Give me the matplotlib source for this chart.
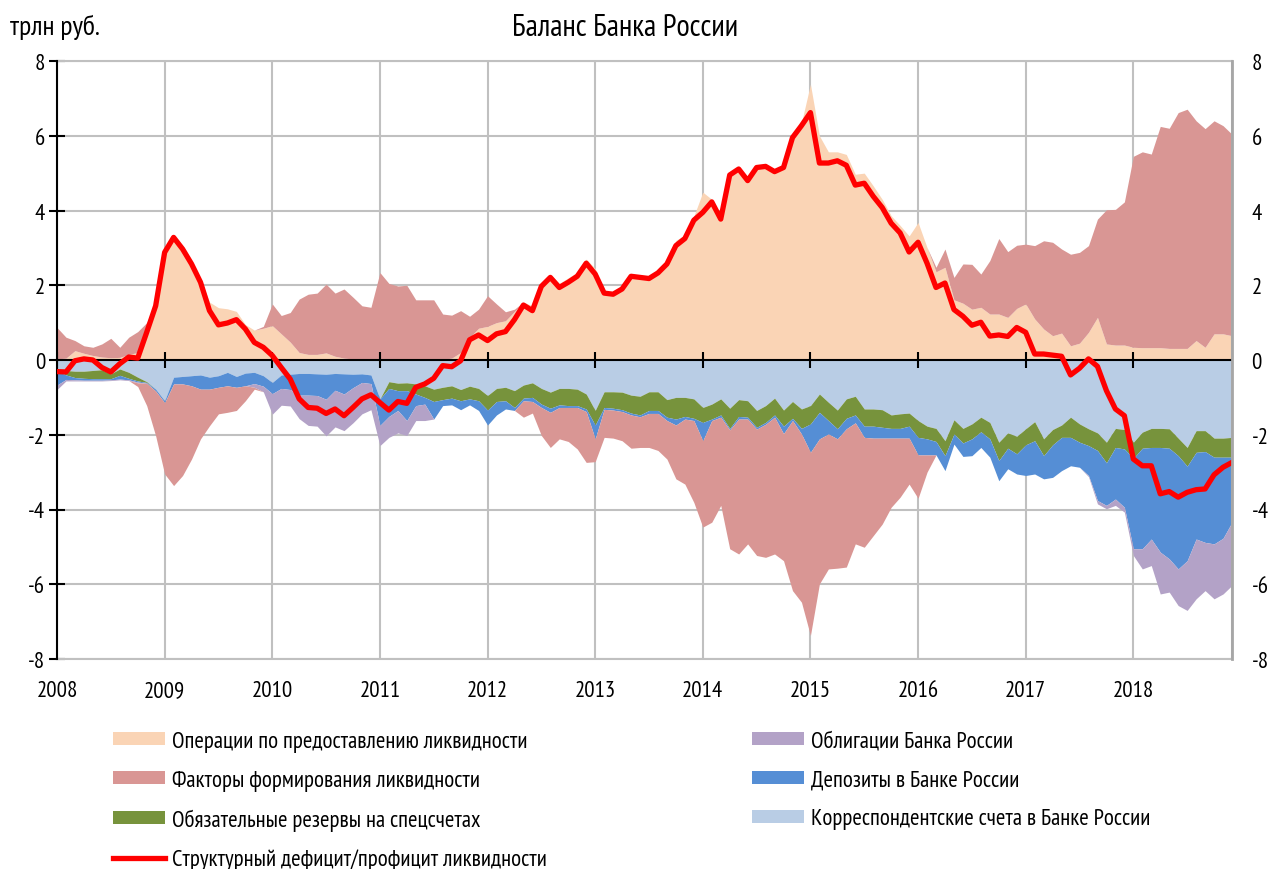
import numpy as np
import matplotlib.pyplot as plt

plt.rcParams['font.family'] = ['PT Sans Narrow', 'Roboto Condensed', 'DejaVu Sans']

years = list(range(2008, 2019))

# monthly data, трлн руб., Jan 2008 .. Dec 2018 (12 values per row)
operations = [
    0.03, 0.05, 0.25, 0.18, 0.12, 0.08, 0.06, 0.07, 0.15, 0.20, 0.80, 1.50,
    2.90, 3.28, 3.00, 2.62, 2.15, 1.55, 1.40, 1.37, 1.30, 0.95, 0.80, 0.85,
    0.92, 0.70, 0.48, 0.20, 0.15, 0.15, 0.19, 0.10, 0.05, 0.03, 0.02, 0.02,
    0.02, 0.02, 0.02, 0.02, 0.02, 0.02, 0.02, 0.02, 0.05, 0.20, 0.60, 0.85,
    0.90, 1.00, 1.05, 1.30, 1.55, 1.45, 2.05, 2.30, 2.05, 2.20, 2.35, 2.70,
    2.45, 1.85, 1.80, 1.95, 2.30, 2.25, 2.25, 2.40, 2.65, 3.20, 3.35, 3.85,
    4.49, 4.30, 3.85, 5.00, 5.15, 4.85, 5.20, 5.22, 5.10, 5.20, 6.00, 6.35,
    7.38, 6.00, 5.57, 5.57, 5.50, 4.97, 5.00, 4.66, 4.30, 3.86, 3.60, 3.32,
    3.68, 3.01, 2.36, 2.48, 1.61, 1.52, 1.36, 1.41, 1.23, 1.23, 1.14, 1.38,
    1.50, 1.10, 0.83, 0.65, 0.72, 0.38, 0.45, 0.74, 1.14, 0.43, 0.40, 0.40,
    0.34, 0.33, 0.33, 0.33, 0.31, 0.31, 0.31, 0.52, 0.34, 0.70, 0.70, 0.65,
]
factors_assets = [
    0.84, 0.56, 0.27, 0.20, 0.22, 0.35, 0.52, 0.27, 0.46, 0.56, 0.20, 0.00,
    0.00, 0.00, 0.00, 0.00, 0.00, 0.00, 0.00, 0.00, 0.00, 0.00, 0.00, 0.05,
    0.58, 0.49, 0.79, 1.43, 1.61, 1.64, 1.84, 1.69, 1.85, 1.65, 1.43, 1.39,
    2.32, 2.03, 1.96, 1.98, 1.59, 1.59, 1.59, 1.21, 1.15, 1.12, 0.57, 0.51,
    0.82, 0.50, 0.24, 0.06, 0.00, 0.00, 0.00, 0.00, 0.00, 0.00, 0.00, 0.00,
    0.00, 0.00, 0.00, 0.00, 0.00, 0.00, 0.00, 0.00, 0.00, 0.00, 0.00, 0.00,
    0.00, 0.00, 0.00, 0.00, 0.00, 0.00, 0.00, 0.00, 0.00, 0.00, 0.00, 0.00,
    0.00, 0.00, 0.00, 0.00, 0.00, 0.00, 0.00, 0.00, 0.00, 0.00, 0.00, 0.00,
    0.00, 0.00, 0.12, 0.49, 0.60, 1.05, 1.20, 0.89, 1.43, 2.02, 1.76, 1.69,
    1.60, 1.96, 2.36, 2.50, 2.25, 2.45, 2.43, 2.32, 2.63, 3.59, 3.63, 3.83,
    5.11, 5.24, 5.18, 5.92, 5.89, 6.31, 6.40, 5.88, 5.85, 5.70, 5.57, 5.39,
]
corr_accounts = [
    0.26, 0.28, 0.30, 0.30, 0.28, 0.26, 0.37, 0.24, 0.33, 0.46, 0.58, 0.78,
    1.09, 0.46, 0.44, 0.42, 0.40, 0.46, 0.42, 0.33, 0.44, 0.35, 0.33, 0.42,
    0.60, 0.40, 0.38, 0.36, 0.36, 0.37, 0.38, 0.36, 0.37, 0.38, 0.37, 0.40,
    1.04, 0.58, 0.62, 0.61, 0.64, 0.69, 0.78, 0.73, 0.69, 0.79, 0.70, 0.76,
    0.95, 0.76, 0.73, 0.82, 0.67, 0.61, 0.76, 0.86, 0.76, 0.76, 0.78, 0.91,
    1.35, 0.85, 0.85, 0.86, 0.94, 0.97, 0.85, 0.85, 1.06, 1.00, 1.00, 1.04,
    1.27, 1.18, 1.04, 1.29, 1.06, 1.09, 1.35, 1.22, 1.02, 1.34, 1.11, 1.31,
    1.22, 0.91, 1.13, 1.34, 1.04, 0.97, 1.31, 1.31, 1.33, 1.47, 1.44, 1.42,
    1.62, 1.77, 1.83, 2.16, 1.60, 1.83, 1.71, 1.53, 1.67, 2.20, 1.95, 2.04,
    1.84, 1.65, 2.11, 1.86, 1.74, 1.53, 1.71, 1.84, 1.95, 2.20, 1.83, 1.86,
    2.20, 1.93, 1.83, 1.83, 1.84, 2.09, 2.34, 1.89, 1.89, 2.09, 2.09, 2.07,
]
reserves = [
    0.03, 0.12, 0.17, 0.19, 0.22, 0.24, 0.13, 0.17, 0.16, 0.10, 0.02, 0.00,
    0.00, 0.00, 0.00, 0.00, 0.00, 0.00, 0.00, 0.00, 0.00, 0.00, 0.00, 0.00,
    0.00, 0.00, 0.00, 0.00, 0.00, 0.00, 0.00, 0.00, 0.00, 0.00, 0.00, 0.00,
    0.00, 0.18, 0.20, 0.21, 0.27, 0.31, 0.33, 0.33, 0.33, 0.30, 0.34, 0.33,
    0.39, 0.35, 0.36, 0.45, 0.35, 0.39, 0.42, 0.43, 0.44, 0.46, 0.44, 0.40,
    0.39, 0.42, 0.44, 0.47, 0.48, 0.50, 0.50, 0.50, 0.47, 0.58, 0.51, 0.52,
    0.40, 0.40, 0.43, 0.54, 0.45, 0.44, 0.45, 0.45, 0.45, 0.43, 0.45, 0.52,
    0.49, 0.49, 0.49, 0.50, 0.52, 0.50, 0.46, 0.46, 0.47, 0.36, 0.39, 0.35,
    0.45, 0.34, 0.35, 0.40, 0.38, 0.39, 0.40, 0.39, 0.44, 0.49, 0.41, 0.47,
    0.43, 0.51, 0.45, 0.41, 0.33, 0.54, 0.49, 0.45, 0.47, 0.55, 0.51, 0.52,
    0.43, 0.43, 0.51, 0.51, 0.52, 0.47, 0.50, 0.58, 0.56, 0.51, 0.51, 0.53,
]
deposits = [
    0.38, 0.12, 0.06, 0.05, 0.04, 0.04, 0.03, 0.10, 0.04, 0.03, 0.02, 0.05,
    0.05, 0.18, 0.20, 0.27, 0.38, 0.32, 0.31, 0.36, 0.29, 0.34, 0.30, 0.28,
    0.30, 0.36, 0.41, 0.58, 0.58, 0.58, 0.67, 0.45, 0.54, 0.36, 0.23, 0.23,
    0.71, 0.75, 0.53, 0.80, 0.31, 0.18, 0.47, 0.16, 0.18, 0.24, 0.16, 0.26,
    0.40, 0.36, 0.22, 0.08, 0.07, 0.11, 0.09, 0.11, 0.07, 0.05, 0.05, 0.07,
    0.37, 0.05, 0.05, 0.05, 0.05, 0.05, 0.08, 0.08, 0.09, 0.16, 0.07, 0.06,
    0.49, 0.04, 0.06, 0.04, 0.07, 0.05, 0.05, 0.05, 0.06, 0.20, 0.06, 0.15,
    0.76, 0.71, 0.36, 0.27, 0.28, 0.21, 0.30, 0.32, 0.29, 0.26, 0.26, 0.32,
    0.47, 0.43, 0.36, 0.40, 0.27, 0.36, 0.45, 0.42, 0.49, 0.54, 0.55, 0.54,
    0.82, 0.89, 0.62, 0.87, 0.89, 0.76, 0.67, 0.80, 1.34, 1.14, 1.38, 1.56,
    2.42, 2.69, 2.45, 2.80, 2.96, 3.03, 2.53, 2.32, 2.43, 2.32, 2.17, 1.74,
]
bonds = [
    0.12, 0.04, 0.03, 0.02, 0.02, 0.02, 0.02, 0.02, 0.02, 0.02, 0.00, 0.00,
    0.00, 0.00, 0.00, 0.00, 0.00, 0.00, 0.00, 0.00, 0.00, 0.00, 0.10, 0.15,
    0.55, 0.45, 0.44, 0.63, 0.81, 0.82, 0.98, 0.98, 0.98, 0.94, 0.84, 0.70,
    0.54, 0.56, 0.60, 0.40, 0.40, 0.44, 0.00, 0.00, 0.00, 0.00, 0.00, 0.00,
    0.00, 0.00, 0.00, 0.00, 0.00, 0.00, 0.00, 0.00, 0.00, 0.00, 0.00, 0.00,
    0.00, 0.00, 0.00, 0.00, 0.00, 0.00, 0.00, 0.00, 0.00, 0.00, 0.00, 0.00,
    0.00, 0.00, 0.00, 0.00, 0.00, 0.00, 0.00, 0.00, 0.00, 0.00, 0.00, 0.00,
    0.00, 0.00, 0.00, 0.00, 0.00, 0.00, 0.00, 0.00, 0.00, 0.00, 0.00, 0.00,
    0.00, 0.00, 0.00, 0.00, 0.00, 0.00, 0.00, 0.00, 0.00, 0.00, 0.00, 0.00,
    0.00, 0.00, 0.00, 0.00, 0.00, 0.00, 0.00, 0.03, 0.09, 0.09, 0.17, 0.13,
    0.18, 0.54, 0.71, 1.12, 0.89, 0.98, 1.33, 1.60, 1.29, 1.47, 1.49, 1.69,
]
factors_liab = [
    0.00, 0.00, 0.00, 0.00, 0.00, 0.00, 0.00, 0.00, 0.00, 0.10, 0.60, 1.20,
    1.91, 2.72, 2.45, 1.96, 1.33, 0.98, 0.71, 0.71, 0.62, 0.40, 0.05, 0.00,
    0.00, 0.00, 0.00, 0.00, 0.00, 0.00, 0.00, 0.00, 0.00, 0.00, 0.00, 0.00,
    0.00, 0.00, 0.00, 0.00, 0.00, 0.00, 0.00, 0.00, 0.00, 0.00, 0.00, 0.00,
    0.00, 0.00, 0.00, 0.00, 0.44, 0.31, 0.75, 0.94, 0.84, 0.91, 1.11, 1.36,
    0.61, 0.75, 0.75, 0.78, 0.89, 0.82, 0.91, 0.99, 1.03, 1.44, 1.74, 2.19,
    2.31, 2.72, 2.36, 3.18, 3.61, 3.34, 3.38, 3.56, 3.66, 3.40, 4.55, 4.50,
    4.90, 3.88, 3.61, 3.46, 3.70, 3.24, 2.94, 2.61, 2.30, 1.85, 1.58, 1.23,
    1.16, 0.46, 0.00, 0.00, 0.00, 0.00, 0.00, 0.00, 0.00, 0.00, 0.00, 0.00,
    0.00, 0.00, 0.00, 0.00, 0.00, 0.00, 0.00, 0.00, 0.00, 0.00, 0.00, 0.00,
    0.00, 0.00, 0.00, 0.00, 0.00, 0.00, 0.00, 0.00, 0.00, 0.00, 0.00, 0.00,
]
structural = [
    -0.31, -0.32, -0.02, 0.03, 0.00, -0.20, -0.32, -0.10, 0.08, 0.05, 0.74, 1.45,
    2.88, 3.28, 2.97, 2.57, 2.08, 1.32, 0.94, 0.99, 1.08, 0.83, 0.47, 0.34,
    0.12, -0.20, -0.51, -1.04, -1.27, -1.29, -1.43, -1.31, -1.49, -1.27, -1.04, -0.93,
    -1.14, -1.34, -1.11, -1.16, -0.73, -0.64, -0.49, -0.15, -0.18, -0.02, 0.54, 0.67,
    0.52, 0.70, 0.76, 1.08, 1.47, 1.32, 1.97, 2.21, 1.94, 2.08, 2.24, 2.59,
    2.30, 1.79, 1.76, 1.90, 2.24, 2.21, 2.18, 2.33, 2.57, 3.06, 3.25, 3.74,
    3.95, 4.23, 3.77, 4.95, 5.11, 4.80, 5.15, 5.18, 5.04, 5.15, 5.95, 6.27,
    6.62, 5.27, 5.27, 5.33, 5.21, 4.68, 4.73, 4.38, 4.08, 3.66, 3.40, 2.89,
    3.15, 2.59, 1.94, 2.06, 1.35, 1.17, 0.93, 1.01, 0.64, 0.67, 0.63, 0.87,
    0.74, 0.16, 0.16, 0.13, 0.10, -0.40, -0.22, 0.03, -0.17, -0.82, -1.31, -1.49,
    -2.65, -2.83, -2.83, -3.58, -3.52, -3.67, -3.54, -3.47, -3.45, -3.07, -2.87, -2.74,
]

labels = [
    'Операции по предоставлению ликвидности',
    'Факторы формирования ликвидности',
    'Обязательные резервы на спецсчетах',
    'Облигации Банка России',
    'Депозиты в Банке России',
    'Корреспондентские счета в Банке России',
    'Структурный дефицит/профицит ликвидности',
]
c_ops = '#FAD4B5'
c_fac = '#D99694'
c_res = '#77933C'
c_bond = '#B3A2C7'
c_dep = '#558ED5'
c_corr = '#B9CDE5'
c_line = '#FF0000'
grid_c = '#C0C0C0'

t = years[0] + np.arange(len(operations)) / 12

ops = np.array(operations)
top = ops + np.array(factors_assets)
n1 = -np.array(corr_accounts)
n2 = n1 - np.array(reserves)
n3 = n2 - np.array(deposits)
n4 = n3 - np.array(bonds)
n5 = n4 - np.array(factors_liab)

fig = plt.figure(figsize=(12.7, 8.7), dpi=100)
ax = fig.add_axes([57 / 1270, 1 - 660 / 870, (1232 - 57) / 1270, 598 / 870])

h_ops = ax.fill_between(t, 0, ops, color=c_ops, lw=0, zorder=2)
h_fac = ax.fill_between(t, ops, top, color=c_fac, lw=0, zorder=2)
h_corr = ax.fill_between(t, 0, n1, color=c_corr, lw=0, zorder=2)
h_res = ax.fill_between(t, n1, n2, color=c_res, lw=0, zorder=2)
h_dep = ax.fill_between(t, n2, n3, color=c_dep, lw=0, zorder=2)
h_bond = ax.fill_between(t, n3, n4, color=c_bond, lw=0, zorder=2)
ax.fill_between(t, n4, n5, color=c_fac, lw=0, zorder=2)
h_line, = ax.plot(t, structural, color=c_line, lw=3.8, zorder=5)

# zero axis with year ticks
ax.axhline(0, color='black', lw=1.5, zorder=3)
ax.plot(years, np.zeros(len(years)), ls='none', marker='|', ms=11, mew=1.5,
        color='black', zorder=3)

ax.set_xlim(t[0], t[-1])
ax.set_ylim(-8, 8)
ax.set_xticks(years)
ax.set_xticklabels([str(y) for y in years], fontsize=16.5)
ax.set_yticks(range(-8, 9, 2))
ax.set_yticklabels([str(v) for v in range(-8, 9, 2)], fontsize=16.5)
ax.tick_params(axis='x', length=0, pad=15)
ax.tick_params(axis='y', direction='inout', length=11, width=1.5, pad=3)
ax.grid(True, color=grid_c, lw=1.5, zorder=0)
ax.set_axisbelow(True)
for side in ['top', 'bottom', 'right']:
    ax.spines[side].set_color(grid_c)
    ax.spines[side].set_linewidth(1.5)
ax.spines['left'].set_linewidth(1.5)
ax.spines['left'].set_zorder(4)

ax2 = ax.twinx()
ax2.set_ylim(-8, 8)
ax2.set_yticks(range(-8, 9, 2))
ax2.set_yticklabels([str(v) for v in range(-8, 9, 2)], fontsize=16.5)
ax2.tick_params(axis='y', length=0, pad=14)
for side in ['top', 'bottom', 'left']:
    ax2.spines[side].set_visible(False)
ax2.spines['right'].set_color('#A6A6A6')
ax2.spines['right'].set_linewidth(2)

fig.text(10 / 1270, 1 - 27 / 870, 'трлн руб.', fontsize=20, va='center', ha='left')
fig.text(625 / 1270, 1 - 28 / 870, 'Баланс Банка России', fontsize=22, va='center', ha='center')

leg_kw = dict(frameon=False, fontsize=16.5, handlelength=2.27, handleheight=0.5,
              handletextpad=0.3, labelspacing=0.77, borderpad=0, borderaxespad=0,
              loc='upper left')
fig.legend([h_ops, h_fac, h_res, h_line], [labels[0], labels[1], labels[2], labels[6]],
           bbox_to_anchor=(113 / 1270, 1 - 732 / 870), **leg_kw)
fig.legend([h_bond, h_dep, h_corr], [labels[3], labels[4], labels[5]],
           bbox_to_anchor=(752 / 1270, 1 - 732 / 870), **leg_kw)

fig.savefig('out.png', dpi=100)
